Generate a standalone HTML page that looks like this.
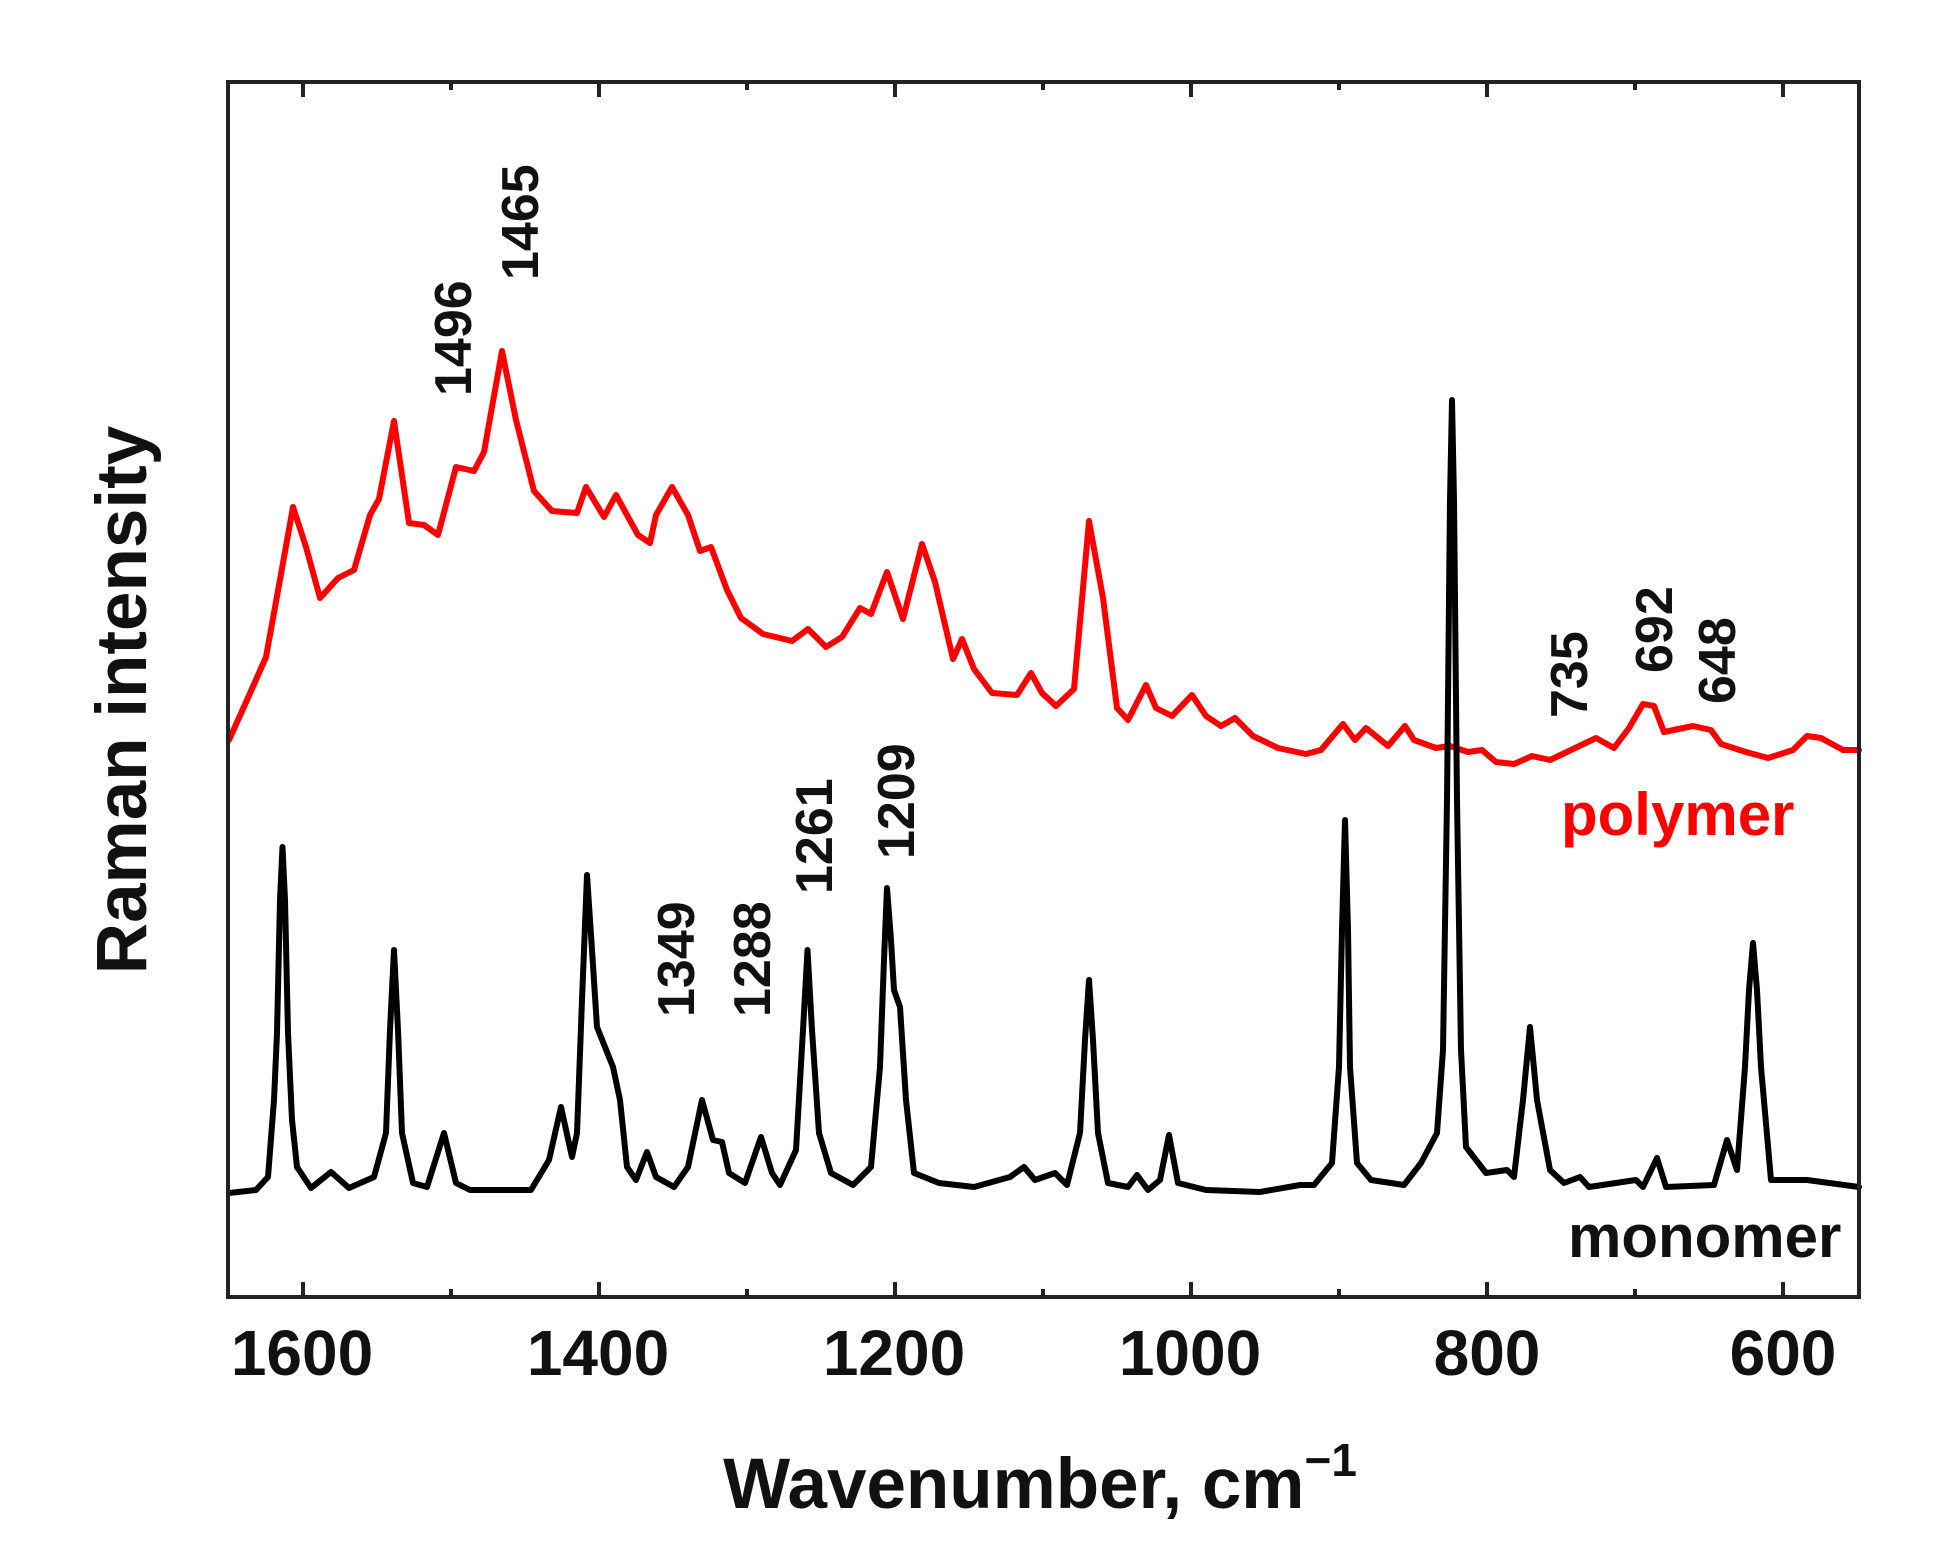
<!DOCTYPE html>
<html><head><meta charset="utf-8"><style>
html,body{margin:0;padding:0;background:#fff;}
svg{display:block;}
text{font-family:"Liberation Sans",Arial,sans-serif;font-weight:bold;}
</style></head><body>
<svg width="1948" height="1565" viewBox="0 0 1948 1565" xmlns="http://www.w3.org/2000/svg">
<rect width="1948" height="1565" fill="#fff"/>
<!-- red polymer -->
<polyline fill="none" stroke="#f00" stroke-width="6" stroke-linejoin="round" stroke-linecap="round" points="
229,740 247,700 266,657 281,574 293,507 306,547 320,598 338,578 354,570 370,515 379,499 394,421 409,523 424,525 438,535 456,467 474,471 484,452 502,351 516,420 534,491 552,511 577,513 586,487 604,517 616,495 638,535 650,543 656,515 672,487 688,515 700,551 711,547 727,590 741,618 763,634 792,641 808,629 826,647 842,637 860,608 871,614 887,572 903,619 922,544 935,582 953,659 962,639 974,669 992,693 1017,695 1031,673 1042,693 1056,706 1074,689 1089,521 1103,598 1117,708 1128,720 1146,685 1156,708 1172,716 1192,695 1206,716 1221,726 1235,718 1253,736 1278,748 1306,754 1321,750 1343,724 1355,740 1366,728 1388,746 1405,726 1414,740 1436,748 1450,746 1468,752 1482,750 1496,762 1514,764 1532,756 1550,760 1571,750 1596,738 1614,748 1629,728 1643,704 1654,706 1664,732 1693,726 1711,730 1721,744 1746,752 1768,758 1793,750 1807,736 1821,738 1843,750 1859,750"/>
<!-- black monomer -->
<polyline fill="none" stroke="#000" stroke-width="6" stroke-linejoin="round" stroke-linecap="round" points="
229,1193 256,1190 268,1177 274,1100 277,1033 280,900 282.5,847 285,900 288,1033 292,1120 297,1167 311,1188 331,1172 349,1188 374,1177 386,1133 390,1030 394,950 398,1030 402,1133 413,1183 427,1187 444,1133 456,1183 470,1190 531,1190 549,1160 561,1107 572,1157 577,1133 582,1000 587,875 592,950 597,1027 613,1067 620,1100 627,1167 636,1180 647,1152 656,1177 674,1187 688,1167 702,1100 713,1140 722,1142 729,1173 745,1183 761,1137 772,1173 780,1185 796,1150 803,1030 807.5,950 812,1030 819,1133 831,1173 853,1185 871,1167 880,1067 884,960 887,888 891,940 894,990 900,1007 906,1100 914,1173 939,1183 974,1187 1010,1177 1024,1167 1035,1180 1055,1173 1067,1185 1080,1133 1085,1040 1089,980 1093,1040 1098,1133 1108,1183 1128,1187 1137,1175 1148,1190 1160,1180 1169,1135 1178,1183 1206,1190 1260,1192 1300,1185 1314,1185 1332,1163 1339,1067 1342,930 1345,820 1348,930 1350,1067 1357,1163 1371,1180 1404,1185 1421,1163 1437,1133 1443,1050 1447,800 1450,500 1452,400 1454,500 1457,800 1461,1050 1466,1147 1486,1173 1507,1170 1514,1177 1523,1100 1530,1027 1537,1100 1550,1170 1564,1183 1580,1177 1589,1187 1636,1180 1643,1187 1657,1158 1666,1187 1714,1185 1727,1140 1737,1170 1745,1067 1749,990 1753,943 1757,990 1761,1067 1771,1180 1807,1180 1859,1187"/>
<!-- frame -->
<rect x="228" y="82" width="1631" height="1215" fill="none" stroke="#222" stroke-width="4"/>
<g stroke="#222" stroke-width="4">
<line x1="303" y1="1297" x2="303" y2="1282"/><line x1="599" y1="1297" x2="599" y2="1282"/><line x1="895" y1="1297" x2="895" y2="1282"/><line x1="1191" y1="1297" x2="1191" y2="1282"/><line x1="1487" y1="1297" x2="1487" y2="1282"/><line x1="1783" y1="1297" x2="1783" y2="1282"/>
<line x1="451" y1="1297" x2="451" y2="1289"/><line x1="747" y1="1297" x2="747" y2="1289"/><line x1="1043" y1="1297" x2="1043" y2="1289"/><line x1="1339" y1="1297" x2="1339" y2="1289"/><line x1="1635" y1="1297" x2="1635" y2="1289"/>
<line x1="303" y1="82" x2="303" y2="97"/><line x1="599" y1="82" x2="599" y2="97"/><line x1="895" y1="82" x2="895" y2="97"/><line x1="1191" y1="82" x2="1191" y2="97"/><line x1="1487" y1="82" x2="1487" y2="97"/><line x1="1783" y1="82" x2="1783" y2="97"/>
<line x1="451" y1="82" x2="451" y2="90"/><line x1="747" y1="82" x2="747" y2="90"/><line x1="1043" y1="82" x2="1043" y2="90"/><line x1="1339" y1="82" x2="1339" y2="90"/><line x1="1635" y1="82" x2="1635" y2="90"/>
</g>
<g font-size="64" text-anchor="middle" fill="#111">
<text x="302" y="1375">1600</text><text x="598" y="1375">1400</text><text x="894" y="1375">1200</text><text x="1190" y="1375">1000</text><text x="1487" y="1375">800</text><text x="1783" y="1375">600</text>
</g>
<text x="1040" y="1508" font-size="71" text-anchor="middle" fill="#111">Wavenumber, cm<tspan font-size="46" dy="-32">−1</tspan></text>
<text transform="translate(146,700) rotate(-90)" font-size="71" text-anchor="middle" fill="#111">Raman intensity</text>
<g font-size="52" fill="#111">
<text transform="translate(538,280) rotate(-90)">1465</text>
<text transform="translate(471,396) rotate(-90)">1496</text>
<text transform="translate(694,1017) rotate(-90)">1349</text>
<text transform="translate(770,1017) rotate(-90)">1288</text>
<text transform="translate(832,894) rotate(-90)">1261</text>
<text transform="translate(914,859) rotate(-90)">1209</text>
<text transform="translate(1587,718) rotate(-90)">735</text>
<text transform="translate(1672,673) rotate(-90)">692</text>
<text transform="translate(1735,704) rotate(-90)">648</text>
</g>
<text x="1561" y="835" font-size="60" fill="#f00">polymer</text>
<text x="1568" y="1257" font-size="60" fill="#111">monomer</text>
</svg>
</body></html>
